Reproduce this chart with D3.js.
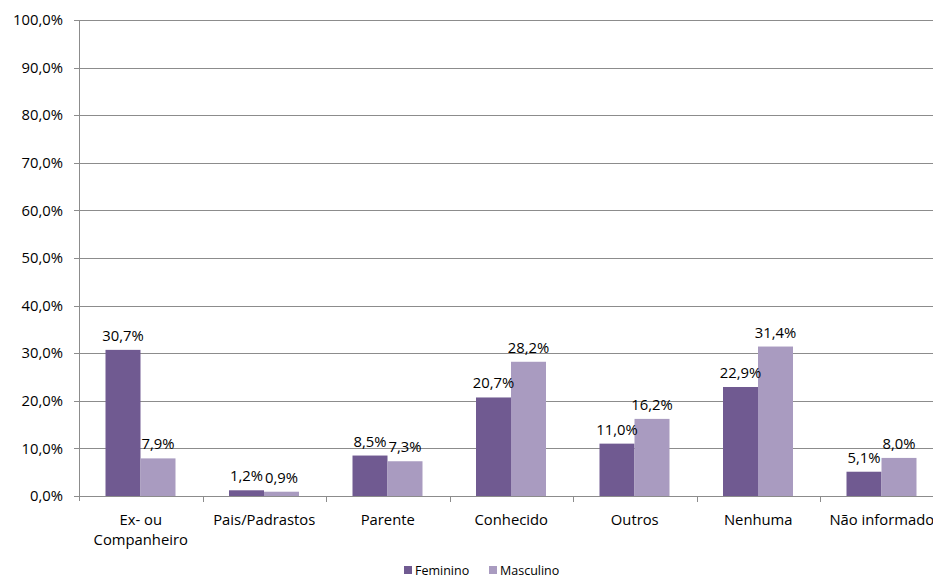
<!DOCTYPE html>
<html>
<head>
<meta charset="utf-8">
<script src="https://d3js.org/d3.v7.min.js"></script>
<style>
    body { margin: 0; background: #fff; }
    svg { display: block; font-family: "Open Sans", "Noto Sans", sans-serif; }
</style>
</head>
<body>
<div id="chart"></div>
<script>
// data
var categories = ["Ex- ou Companheiro", "Pais/Padrastos", "Parente", "Conhecido", "Outros", "Nenhuma", "Não informado"];
var catLines = [["Ex- ou", "Companheiro"], ["Pais/Padrastos"], ["Parente"], ["Conhecido"], ["Outros"], ["Nenhuma"], ["Não informado"]];
var series = ["Feminino", "Masculino"];
var feminino = [30.7, 1.2, 8.5, 20.7, 11.0, 22.9, 5.1];
var masculino = [7.9, 0.9, 7.3, 28.2, 16.2, 31.4, 8.0];
var yTicks = [0, 10, 20, 30, 40, 50, 60, 70, 80, 90, 100];
var colors = ["#705a91", "#a99bc0"];

var width = 933, height = 578;
var plotLeft = 79, plotTop = 20, plotBottom = 496;
var step = 123.5;
var fontSize = 14.8;

var svg = d3.select("#chart").append("svg")
    .attr("width", width)
    .attr("height", height);

var x0 = d3.scaleBand()
    .domain(categories)
    .range([plotLeft, plotLeft + step * categories.length])
    .padding(0);

var x1 = d3.scaleBand()
    .domain(series)
    .range([26.5, 96.5])
    .padding(0);

var y = d3.scaleLinear().domain([0, 100]).range([plotBottom, plotTop]);

function fmt(v) { return v.toFixed(1).replace(".", ",") + "%"; }

// gridlines
svg.append("g").selectAll("line")
    .data(yTicks.filter(function(d) { return d > 0; }))
    .enter().append("line")
    .attr("x1", plotLeft - 5)
    .attr("x2", width)
    .attr("y1", function(d) { return Math.round(y(d)) + 0.5; })
    .attr("y2", function(d) { return Math.round(y(d)) + 0.5; })
    .attr("stroke", "#8c8c8c")
    .attr("stroke-width", 1);

// y tick labels
svg.append("g").selectAll("text")
    .data(yTicks)
    .enter().append("text")
    .attr("x", 63)
    .attr("y", function(d) { return y(d); })
    .attr("dy", "0.35em")
    .attr("text-anchor", "end")
    .attr("font-size", fontSize)
    .attr("fill", "#000")
    .text(function(d) { return fmt(d); });

// bars
var rows = categories.map(function(c, i) { return { cat: c, vals: [feminino[i], masculino[i]] }; });

var groups = svg.append("g").selectAll("g")
    .data(rows)
    .enter().append("g")
    .attr("transform", function(d) { return "translate(" + x0(d.cat) + ",0)"; });

function pairs(d) { return d.vals.map(function(v, j) { return { s: series[j], v: v, j: j }; }); }

groups.selectAll("rect")
    .data(pairs)
    .enter().append("rect")
    .attr("x", function(d) { return x1(d.s); })
    .attr("width", x1.bandwidth())
    .attr("y", function(d) { return y(d.v); })
    .attr("height", function(d) { return plotBottom - y(d.v); })
    .attr("fill", function(d) { return colors[d.j]; });

groups.selectAll("text")
    .data(pairs)
    .enter().append("text")
    .attr("x", function(d) { return x1(d.s) + x1.bandwidth() / 2; })
    .attr("y", function(d) { return y(d.v) - 9; })
    .attr("text-anchor", "middle")
    .attr("font-size", fontSize)
    .attr("fill", "#000")
    .text(function(d) { return fmt(d.v); });

// axis lines
svg.append("line")
    .attr("x1", plotLeft + 0.5).attr("x2", plotLeft + 0.5)
    .attr("y1", plotTop).attr("y2", plotBottom + 5)
    .attr("stroke", "#8c8c8c");
svg.append("line")
    .attr("x1", plotLeft - 5).attr("x2", width)
    .attr("y1", plotBottom + 0.5).attr("y2", plotBottom + 0.5)
    .attr("stroke", "#8c8c8c");

// category ticks
svg.append("g").selectAll("line")
    .data(categories.slice(1))
    .enter().append("line")
    .attr("x1", function(d) { return Math.round(x0(d)) + 0.5; })
    .attr("x2", function(d) { return Math.round(x0(d)) + 0.5; })
    .attr("y1", plotBottom).attr("y2", plotBottom + 6)
    .attr("stroke", "#8c8c8c");

// category labels
var catText = svg.append("g").selectAll("text")
    .data(categories)
    .enter().append("text")
    .attr("y", 525)
    .attr("text-anchor", "middle")
    .attr("font-size", fontSize)
    .attr("fill", "#000");

catText.selectAll("tspan")
    .data(function(d, i) { return catLines[i].map(function(t) { return { cat: d, t: t }; }); })
    .enter().append("tspan")
    .attr("x", function(d) { return x0(d.cat) + step / 2; })
    .attr("dy", function(d, i) { return i === 0 ? 0 : 20; })
    .text(function(d) { return d.t; });

// legend
var legend = svg.append("g").attr("transform", "translate(404,566)");
var legendX = [0, 85];
series.forEach(function(s, i) {
    legend.append("rect")
        .attr("x", legendX[i])
        .attr("y", 0)
        .attr("width", 8)
        .attr("height", 8)
        .attr("fill", colors[i]);
    legend.append("text")
        .attr("x", legendX[i] + 11)
        .attr("y", 9)
        .attr("font-size", 12.5)
        .attr("fill", "#000")
        .text(s);
});
</script>
</body>
</html>
